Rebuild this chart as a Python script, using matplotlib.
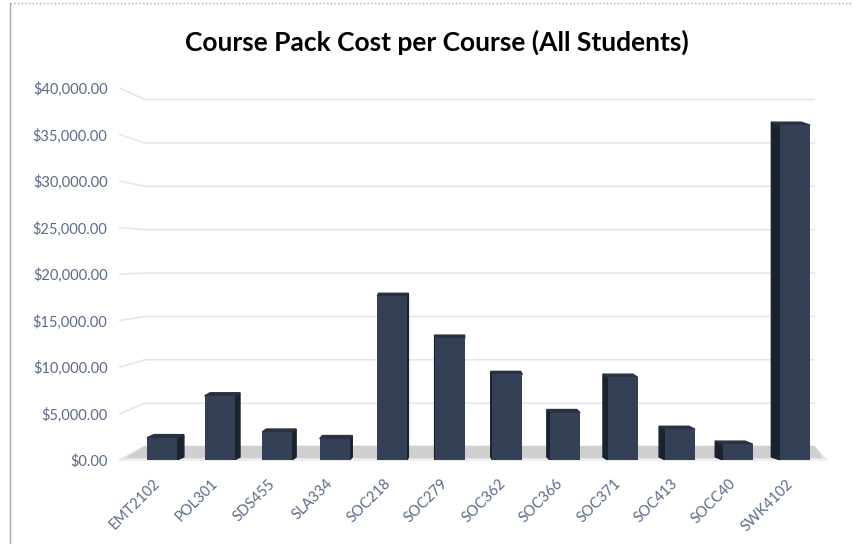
import matplotlib
matplotlib.use("Agg")
import matplotlib.pyplot as plt
import matplotlib.transforms as mtransforms
from matplotlib.lines import Line2D
from matplotlib.ticker import FuncFormatter

# data
courses = ["EMT2102", "POL301", "SDS455", "SLA334", "SOC218", "SOC279",
           "SOC362", "SOC366", "SOC371", "SOC413", "SOCC40", "SWK4102"]
cost = [2400, 6900, 3000, 2300, 17600, 13100, 9200, 5100, 8900, 3300, 1700, 36000]
yticks = [0, 5000, 10000, 15000, 20000, 25000, 30000, 35000, 40000]

front = "#344055"
side = "#1a222e"
top = "#283242"
label_col = "#5b6b86"
grid_col = "#e3e7ee"

plt.rcParams["font.family"] = ["Lato", "DejaVu Sans"]

fig = plt.figure(figsize=(8.54, 5.44), dpi=100)
ax = fig.add_axes([0.1405, 0.1544, 0.8244, 0.6838])
ax.set_xlim(-0.73, 11.5)
ax.set_ylim(0, 40000)

# fake 3d: back wall sits a little higher than the front edge
back_off, back_scale = 1441, 0.933
wall_x = -0.3
for v in yticks:
    yb = back_off + back_scale * v
    ax.plot([-0.73, wall_x, 11.33], [v, yb, yb], color=grid_col, lw=1.2,
            clip_on=False, zorder=0)

# floor with a soft shadow
ax.fill([-0.73, 11.55, 11.33, wall_x], [0, 0, back_off, back_off],
        color="#e4e4e4", zorder=1, clip_on=False)
ax.fill([-0.6, 11.45, 11.33, wall_x], [300, 300, back_off, back_off],
        color="#cfcfcf", zorder=1, clip_on=False)
ax.plot([-0.73, 11.55], [0, 0], color="#eceef2", lw=1.5, clip_on=False, zorder=1)

w = 0.52
dy = 330
center = 4.8
for i, v in enumerate(cost):
    x0, x1 = i - w / 2, i + w / 2
    dx = 0.025 * (center - i)
    if dx > 0:
        ax.fill([x1, x1, x1 + dx, x1 + dx], [0, v, v + dy, dy], color=side, zorder=2)
    else:
        ax.fill([x0, x0, x0 + dx, x0 + dx], [0, v, v + dy, dy], color=side, zorder=2)
    ax.fill([x0, x1, x1 + dx, x0 + dx], [v, v, v + dy, v + dy], color=top, zorder=2)
    ax.bar(i, v, width=w, color=front, zorder=3)

ax.set_yticks(yticks)
ax.yaxis.set_major_formatter(FuncFormatter(lambda v, p: "${:,.2f}".format(v)))
ax.set_xticks(range(len(courses)))
ax.set_xticklabels(courses, rotation=45, ha="right", rotation_mode="anchor")
ax.tick_params(length=0, labelsize=10.5, colors=label_col)
ax.tick_params(axis="y", pad=9)
ax.tick_params(axis="x", pad=12)
shift = mtransforms.ScaledTranslation(-9 / 100, 0, fig.dpi_scale_trans)
for lab in ax.get_xticklabels():
    lab.set_transform(lab.get_transform() + shift)
for s in ax.spines.values():
    s.set_visible(False)

fig.suptitle("Course Pack Cost per Course (All Students)", x=0.512, y=0.945,
             fontsize=19, fontweight="bold", color="black")

# chart border
fig.add_artist(Line2D([10 / 854, 10 / 854], [0, 1 - 3 / 544], color="#a8a8a8",
                      lw=1, transform=fig.transFigure))
fig.add_artist(Line2D([10 / 854, 1], [1 - 3 / 544, 1 - 3 / 544], color="#a8a8a8",
                      lw=1, ls=":", transform=fig.transFigure))

fig.savefig("out.png", dpi=100)
